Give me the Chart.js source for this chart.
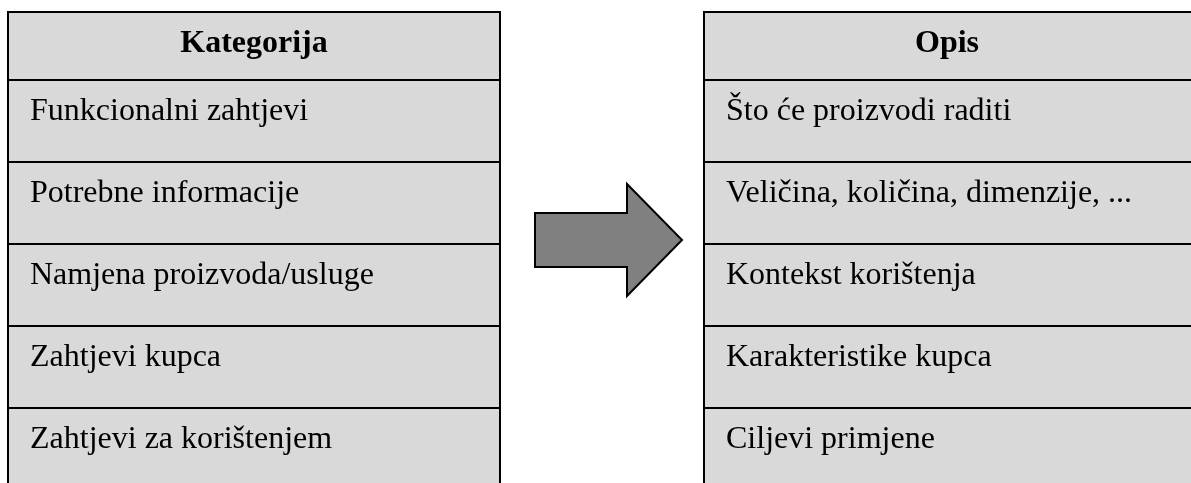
<!DOCTYPE html>
<html lang="hr">

<head>
    <meta charset="UTF-8">
    <title>Kategorija / Opis</title>
    <script src="https://cdn.jsdelivr.net/npm/chart.js"></script>
    <style>
        html, body { margin: 0; padding: 0; background: #fff; }
        #wrap { width: 1191px; height: 483px; }
    </style>
</head>

<body>
    <div id="wrap"><canvas id="myChart1"></canvas></div>
</body>

<script>
    // tekstovi tablica
    const headers = ['Kategorija', 'Opis'];
    const categories = [
        'Funkcionalni zahtjevi',
        'Potrebne informacije',
        'Namjena proizvoda/usluge',
        'Zahtjevi kupca',
        'Zahtjevi za korištenjem'
    ];
    const descriptions = [
        'Što će proizvodi raditi',
        'Veličina, količina, dimenzije, ...',
        'Kontekst korištenja',
        'Karakteristike kupca',
        'Ciljevi primjene'
    ];

    // raspored (u jedinicama skale, 1 jedinica = 1 px)
    const tableTop = 12;
    const headerH = 68;
    const rowH = 82;
    const leftTable = { x0: 8, x1: 500, cx: 254 };
    const rightTable = { x0: 704, x1: 1200, cx: 947 };  // desni rub je izvan slike
    const arrow = { x0: 535, neck: 627, tip: 682, cy: 240, shaftH: 27, headH: 56 };

    const tablePlugin = {
        id: 'tablePlugin',
        afterDraw(chart) {
            const c = chart.ctx;
            const xs = chart.scales.x;
            const ys = chart.scales.y;
            const px = v => xs.getPixelForValue(v);
            const py = v => ys.getPixelForValue(v);

            function drawTable(t, title, rows) {
                // zaglavlje + redovi
                const cells = [{ y0: tableTop, y1: tableTop + headerH }];
                rows.forEach((r, i) => {
                    const y0 = tableTop + headerH + i * rowH;
                    cells.push({ y0: y0, y1: y0 + rowH });
                });
                c.save();
                c.lineWidth = 2;
                c.strokeStyle = '#000';
                cells.forEach(cell => {
                    c.fillStyle = '#d9d9d9';
                    c.fillRect(px(t.x0), py(cell.y0), px(t.x1) - px(t.x0), py(cell.y1) - py(cell.y0));
                    c.strokeRect(px(t.x0), py(cell.y0), px(t.x1) - px(t.x0), py(cell.y1) - py(cell.y0));
                });
                c.fillStyle = '#000';
                c.textBaseline = 'alphabetic';
                c.font = 'bold 32px "Liberation Serif", "Times New Roman", serif';
                c.textAlign = 'center';
                c.fillText(title, px(t.cx), py(tableTop + 40));
                c.font = '32px "Liberation Serif", "Times New Roman", serif';
                c.textAlign = 'left';
                rows.forEach((r, i) => {
                    c.fillText(r, px(t.x0 + 22), py(tableTop + headerH + i * rowH + 40));
                });
                c.restore();
            }

            drawTable(leftTable, headers[0], categories);
            drawTable(rightTable, headers[1], descriptions);

            // strelica
            const a = arrow;
            const pts = [
                [a.x0, a.cy - a.shaftH], [a.neck, a.cy - a.shaftH], [a.neck, a.cy - a.headH],
                [a.tip, a.cy], [a.neck, a.cy + a.headH], [a.neck, a.cy + a.shaftH], [a.x0, a.cy + a.shaftH]
            ];
            c.save();
            c.beginPath();
            pts.forEach((p, i) => {
                if (i === 0) c.moveTo(px(p[0]), py(p[1]));
                else c.lineTo(px(p[0]), py(p[1]));
            });
            c.closePath();
            c.fillStyle = '#808080';
            c.fill();
            c.lineWidth = 2;
            c.lineJoin = 'miter';
            c.strokeStyle = '#000';
            c.stroke();
            c.restore();
        }
    };

    const ctx = document.getElementById('myChart1');
    const myChart1 = new Chart(ctx, {
        type: 'scatter',
        data: { datasets: [{ data: [] }] },
        options: {
            responsive: true,
            maintainAspectRatio: false,
            animation: false,
            layout: { padding: 0 },
            scales: {
                x: { type: 'linear', min: 0, max: 1191, display: false },
                y: { type: 'linear', min: 0, max: 483, reverse: true, display: false }
            },
            plugins: { legend: { display: false }, tooltip: { enabled: false } }
        },
        plugins: [tablePlugin]
    });
</script>

</html>
